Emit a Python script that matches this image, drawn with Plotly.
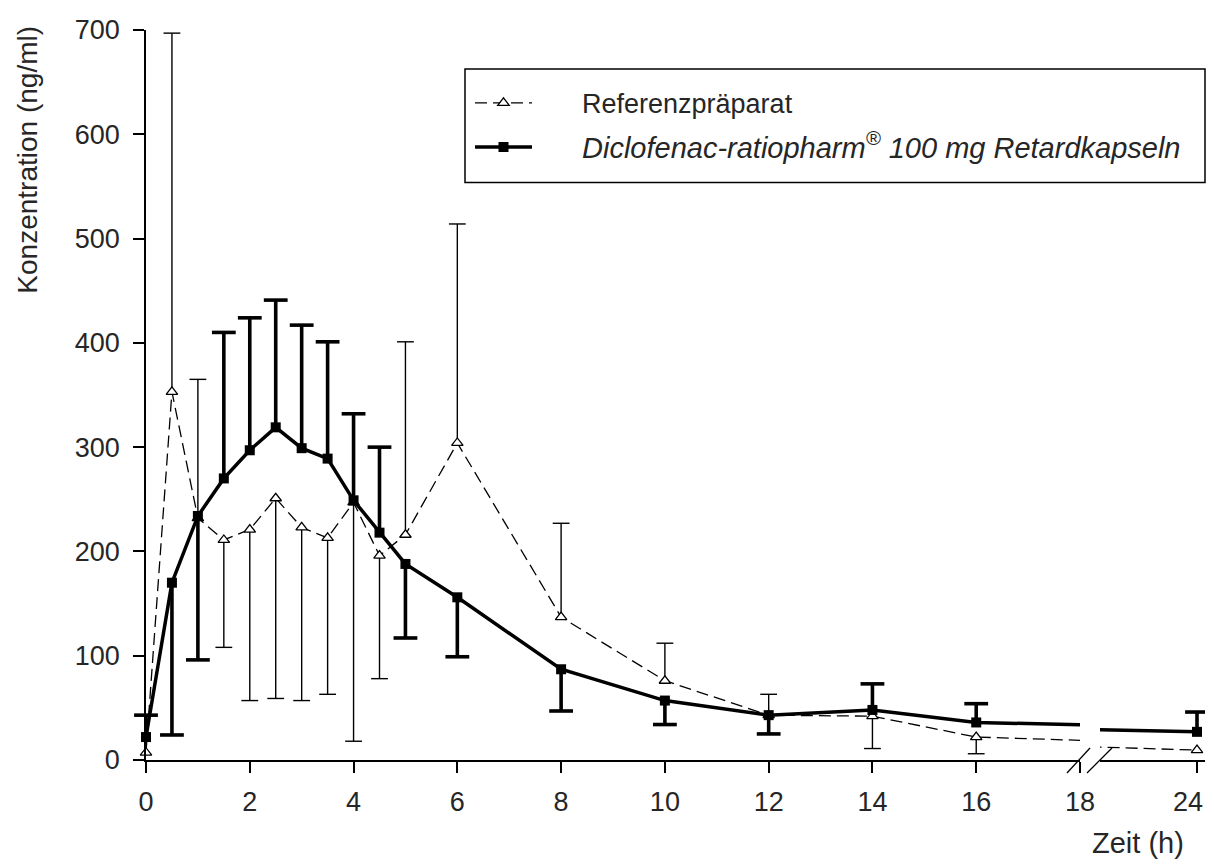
import plotly.graph_objects as go

# ---------------- data ----------------
time_h = [0, 0.5, 1, 1.5, 2, 2.5, 3, 3.5, 4, 4.5, 5, 6, 8, 10, 12, 14, 16, 24]

ref_mean  = [7, 353, 232, 211, 221, 251, 223, 213, 247, 196, 216, 304, 137, 76, 43, 42, 22, 9.5]
ref_upper = [None, 697, 365, None, None, None, None, None, None, None, 401, 514, 227, 112, 63, None, None, None]
ref_lower = [None, None, None, 108, 57, 59, 57, 63, 18, 78, None, None, None, None, None, 11, 6, None]

test_mean  = [22, 170, 234, 270, 297, 319, 299, 289, 249, 218, 188, 156, 87, 57, 43, 48, 36, 27]
test_upper = [43, None, None, 410, 424, 441, 417, 401, 332, 300, None, None, None, None, None, 73, 54, 46]
test_lower = [None, 24, 96, None, None, None, None, None, None, None, 117, 99, 47, 34, 25, None, None, None]

x_ticks_main = [0, 2, 4, 6, 8, 10, 12, 14, 16, 18]
x_ticks_tail = [24]
y_ticks = [0, 100, 200, 300, 400, 500, 600, 700]

name_ref = "Referenzpräparat"
name_test = "<i>Diclofenac-ratiopharm<sup>®</sup> 100 mg Retardkapseln</i>"

# ---------------- geometry ----------------
OFF = 8                      # default margin of the html body
SB = 15                      # width the page loses to its scrollbar
WE = 1204                    # width that is really drawn
W, H = WE + SB, 867 - 2 * OFF
ML, MT = 146 - OFF, 28 - OFF
MB = H - (760 - OFF)
MR = WE - (1205 - OFF)       # plot area ends at x=1205 of the picture
PW = WE - ML - MR
PH = H - MT - MB
PXH = 51.9                   # px per hour


def px(xr):
    return (xr - OFF - ML) / PW


def py(yr):
    return (H - MB - (yr - OFF)) / PH


d1_end = px(1080)
d2_start = px(1100)
right_ref = WE - MR + OFF
x2_end = 24 + (right_ref - 1197) / PXH
x2_start = x2_end - (right_ref - 1100) / PXH

FONT = "Liberation Sans, Arial, sans-serif"
TXT = "#262626"

fig = go.Figure()


def add_bars(xs, ys, bounds, thick, xa):
    sx, sy, cx, cy = [], [], [], []
    for x, y, b in zip(xs, ys, bounds):
        if b is None:
            continue
        sx += [x, x, None]
        sy += [y, b, None]
        cx.append(x)
        cy.append(b)
    lw = 3.6 if thick else 1.4
    fig.add_trace(go.Scatter(x=sx, y=sy, mode="lines", line=dict(color="black", width=lw),
                             showlegend=False, hoverinfo="skip", xaxis=xa, yaxis="y"))
    fig.add_trace(go.Scatter(x=cx, y=cy, mode="markers",
                             marker=dict(symbol="line-ew", size=17 if thick else 12,
                                         line=dict(color="black", width=lw)),
                             showlegend=False, hoverinfo="skip", xaxis=xa, yaxis="y",
                             cliponaxis=(xa != "x")))


for xa in ["x", "x2"]:
    add_bars(time_h, ref_mean, ref_upper, False, xa)
    add_bars(time_h, ref_mean, ref_lower, False, xa)
    add_bars(time_h, test_mean, test_upper, True, xa)
    add_bars(time_h, test_mean, test_lower, True, xa)

for xa in ["x", "x2"]:
    first = xa == "x"
    fig.add_trace(go.Scatter(
        x=time_h, y=ref_mean, mode="lines+markers", name="\u00a0" * 6 + name_ref,
        line=dict(color="black", width=1.3, dash="12px,6px"),
        marker=dict(symbol="triangle-up", size=10, color="white", line=dict(color="black", width=1.3)),
        xaxis=xa, yaxis="y", showlegend=first, legendgroup="ref", cliponaxis=not first,
    ))
for xa in ["x", "x2"]:
    first = xa == "x"
    fig.add_trace(go.Scatter(
        x=time_h, y=test_mean, mode="lines+markers",
        name="\u00a0" * 6 + '<span style="font-size:29px">' + name_test + "</span>",
        line=dict(color="black", width=3.5),
        marker=dict(symbol="square", size=10, color="black"),
        xaxis=xa, yaxis="y", showlegend=first, legendgroup="test", cliponaxis=not first,
    ))

axis_common = dict(showline=True, linecolor="black", linewidth=1.5, ticks="outside",
                   ticklen=11, tickwidth=1.5, tickcolor="black", showgrid=False, zeroline=False,
                   tickfont=dict(family=FONT, size=27, color=TXT))

fig.update_layout(
    width=W, height=H,
    margin=dict(l=ML, r=MR, t=MT, b=MB, pad=0),
    paper_bgcolor="white", plot_bgcolor="white",
    font=dict(family=FONT, color=TXT),
    xaxis=dict(domain=[0, d1_end], range=[0, 18], tickvals=x_ticks_main, anchor="y",
               ticklabelstandoff=6, **axis_common),
    xaxis2=dict(domain=[d2_start, 1], range=[x2_start, x2_end], tickvals=x_ticks_tail, anchor="y",
                ticklabelstandoff=6, ticklabelshift=-9, **axis_common),
    yaxis=dict(domain=[0, 1], range=[0, 700], tickvals=y_ticks, anchor="x",
               ticklabelstandoff=8, **axis_common),
    legend=dict(x=px(470), y=py(77), xanchor="left", yanchor="top",
                bgcolor="rgba(0,0,0,0)", borderwidth=0, itemwidth=57,
                tracegroupgap=6, font=dict(family=FONT, size=27, color=TXT)),
    showlegend=True,
)

# legend frame
fig.add_shape(type="rect", xref="paper", yref="paper",
              x0=px(465), x1=px(1205), y0=py(181), y1=py(67),
              line=dict(color="black", width=1.5), fillcolor="rgba(0,0,0,0)")

# axis break marks
for (xa0, ya0, xa1, ya1) in [(1067, 773, 1090, 748), (1087, 773, 1112, 748)]:
    fig.add_shape(type="line", xref="paper", yref="paper",
                  x0=px(xa0), y0=py(ya0), x1=px(xa1), y1=py(ya1),
                  line=dict(color="black", width=1.3))

fig.add_annotation(text="Konzentration (ng/ml)", textangle=-90, xref="paper", yref="paper",
                   x=px(28), y=py(158), xanchor="center", yanchor="middle", showarrow=False,
                   font=dict(family=FONT, size=28, color=TXT))
fig.add_annotation(text="Zeit (h)", xref="paper", yref="paper",
                   x=px(1138), y=py(843), xanchor="center", yanchor="middle", showarrow=False,
                   font=dict(family=FONT, size=29, color=TXT))

fig.write_html("out.html")
